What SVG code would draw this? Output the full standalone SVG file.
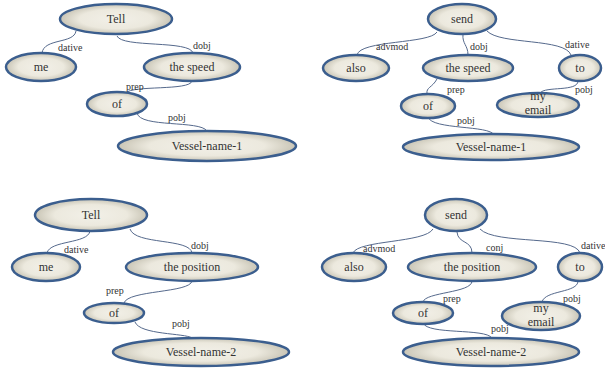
<svg xmlns="http://www.w3.org/2000/svg" width="605" height="369" viewBox="0 0 605 369">
  <defs>
    <radialGradient id="nodeFill" cx="50%" cy="50%" r="50%">
      <stop offset="0%" stop-color="#F2F0E8"/>
      <stop offset="65%" stop-color="#ECE9DE"/>
      <stop offset="100%" stop-color="#C9C5B6"/>
    </radialGradient>
  </defs>
  <style>
    .node ellipse { fill: url(#nodeFill); stroke: #3B5E8E; stroke-width: 2.5; }
    .node text { font-size: 12px; fill: #333333; text-anchor: middle; }
    .edge { fill: none; stroke: #55698C; stroke-width: 1; }
    .lbl { font-size: 10px; fill: #333333; }
  </style>
  <rect width="605" height="369" fill="#FFFFFF"/>

  <!-- connectors -->
  <g id="connectors" font-family="'Liberation Serif', 'DejaVu Serif', serif">
    <!-- tree 1 -->
    <path class="edge" d="M76,31 C74,44 44,38 42,53"/>
    <path class="edge" d="M117,36 C122,48 190,40 193,53"/>
    <path class="edge" d="M192,81 C190,91 132,85 126,93"/>
    <path class="edge" d="M137,113 C140,128 200,120 207,131"/>
    <text class="lbl" x="58" y="51">dative</text>
    <text class="lbl" x="193" y="49">dobj</text>
    <text class="lbl" x="126" y="90">prep</text>
    <text class="lbl" x="168" y="121">pobj</text>
    <!-- tree 2 -->
    <path class="edge" d="M437,32 C430,44 360,40 357,55"/>
    <path class="edge" d="M463,34 C462,44 468,45 468,55"/>
    <path class="edge" d="M487,31 C500,45 565,38 571,55"/>
    <path class="edge" d="M437,79 C432,88 426,87 427,94"/>
    <path class="edge" d="M578,81 C578,92 545,86 540,93"/>
    <path class="edge" d="M428,117 C432,130 490,125 494,135"/>
    <text class="lbl" x="376" y="50">advmod</text>
    <text class="lbl" x="470" y="50">dobj</text>
    <text class="lbl" x="565" y="48">dative</text>
    <text class="lbl" x="447" y="93">prep</text>
    <text class="lbl" x="575" y="93">pobj</text>
    <text class="lbl" x="457" y="124">pobj</text>
    <!-- tree 3 -->
    <path class="edge" d="M90,231 C88,244 50,240 47,253"/>
    <path class="edge" d="M130,229 C135,245 190,238 192,253"/>
    <path class="edge" d="M192,281 C190,293 128,290 124,303"/>
    <path class="edge" d="M135,322 C140,335 185,333 192,338"/>
    <text class="lbl" x="64" y="253">dative</text>
    <text class="lbl" x="191" y="249">dobj</text>
    <text class="lbl" x="106" y="294">prep</text>
    <text class="lbl" x="172" y="327">pobj</text>
    <!-- tree 4 -->
    <path class="edge" d="M433,229 C425,243 358,240 353,253"/>
    <path class="edge" d="M457,232 C458,244 472,240 472,253"/>
    <path class="edge" d="M480,229 C495,245 575,235 580,253"/>
    <path class="edge" d="M472,281 C472,293 425,292 423,302"/>
    <path class="edge" d="M578,281 C578,293 545,290 542,302"/>
    <path class="edge" d="M423,323 C428,335 485,328 492,338"/>
    <text class="lbl" x="363" y="252">advmod</text>
    <text class="lbl" x="486" y="251">conj</text>
    <text class="lbl" x="581" y="249">dative</text>
    <text class="lbl" x="443" y="302">prep</text>
    <text class="lbl" x="563" y="302">pobj</text>
    <text class="lbl" x="491" y="332">pobj</text>
  </g>

  <g id="nodes" font-family="'Liberation Serif', 'DejaVu Serif', serif">
  <!-- tree 1 nodes -->
  <g id="t1-tell" class="node"><ellipse cx="116" cy="19" rx="56" ry="15"/><text x="116" y="23">Tell</text></g>
  <g id="t1-me" class="node"><ellipse cx="41" cy="67" rx="35" ry="14"/><text x="41" y="71">me</text></g>
  <g id="t1-speed" class="node"><ellipse cx="192" cy="67" rx="48" ry="14"/><text x="192" y="71">the speed</text></g>
  <g id="t1-of" class="node"><ellipse cx="117" cy="104" rx="30" ry="12"/><text x="117" y="108">of</text></g>
  <g id="t1-vessel" class="node"><ellipse cx="207" cy="146" rx="89" ry="15"/><text x="207" y="150">Vessel-name-1</text></g>

  <!-- tree 2 nodes -->
  <g id="t2-send" class="node"><ellipse cx="462" cy="19" rx="34" ry="15"/><text x="462" y="23">send</text></g>
  <g id="t2-also" class="node"><ellipse cx="356" cy="68" rx="33" ry="13"/><text x="356" y="72">also</text></g>
  <g id="t2-speed" class="node"><ellipse cx="468" cy="68" rx="45" ry="13"/><text x="468" y="72">the speed</text></g>
  <g id="t2-to" class="node"><ellipse cx="580" cy="68" rx="21" ry="13"/><text x="580" y="72">to</text></g>
  <g id="t2-of" class="node"><ellipse cx="428" cy="106" rx="27" ry="12"/><text x="428" y="110">of</text></g>
  <g id="t2-email" class="node"><ellipse cx="538" cy="105" rx="41" ry="12"/><text x="538" y="100">my</text><text x="538" y="113.5">email</text></g>
  <g id="t2-vessel" class="node"><ellipse cx="491" cy="147" rx="88" ry="13"/><text x="491" y="151">Vessel-name-1</text></g>

  <!-- tree 3 nodes -->
  <g id="t3-tell" class="node"><ellipse cx="91" cy="215" rx="56" ry="16"/><text x="91" y="219">Tell</text></g>
  <g id="t3-me" class="node"><ellipse cx="46" cy="267" rx="34" ry="14"/><text x="46" y="271">me</text></g>
  <g id="t3-position" class="node"><ellipse cx="192" cy="267" rx="66" ry="14"/><text x="192" y="271">the position</text></g>
  <g id="t3-of" class="node"><ellipse cx="114" cy="313" rx="30" ry="10"/><text x="114" y="317">of</text></g>
  <g id="t3-vessel" class="node"><ellipse cx="201" cy="352" rx="88" ry="14"/><text x="201" y="356">Vessel-name-2</text></g>

  <!-- tree 4 nodes -->
  <g id="t4-send" class="node"><ellipse cx="456" cy="215" rx="31" ry="16"/><text x="456" y="219">send</text></g>
  <g id="t4-also" class="node"><ellipse cx="354" cy="267" rx="32" ry="14"/><text x="354" y="271">also</text></g>
  <g id="t4-position" class="node"><ellipse cx="472" cy="267" rx="64" ry="14"/><text x="472" y="271">the position</text></g>
  <g id="t4-to" class="node"><ellipse cx="580" cy="267" rx="22" ry="14"/><text x="580" y="271">to</text></g>
  <g id="t4-of" class="node"><ellipse cx="423" cy="313" rx="30" ry="11"/><text x="423" y="317">of</text></g>
  <g id="t4-email" class="node"><ellipse cx="541" cy="316" rx="39" ry="14"/><text x="541" y="312">my</text><text x="541" y="326">email</text></g>
  <g id="t4-vessel" class="node"><ellipse cx="491" cy="352" rx="88" ry="14"/><text x="491" y="356">Vessel-name-2</text></g>
  </g>
</svg>
